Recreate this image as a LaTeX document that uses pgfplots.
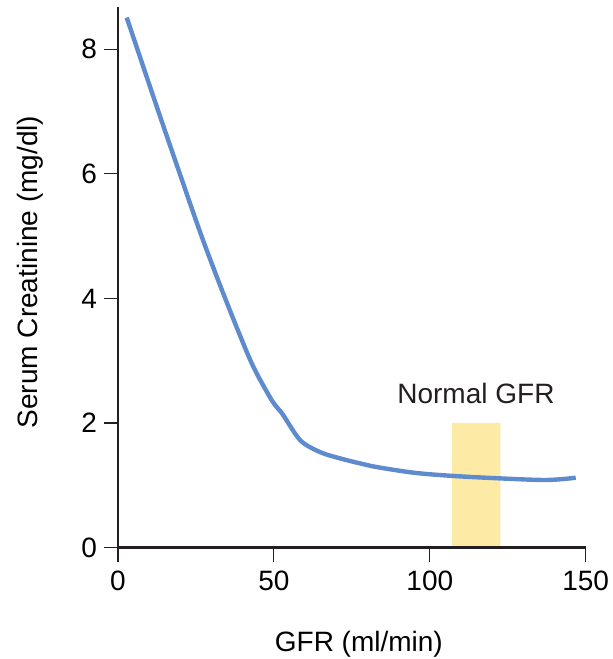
\documentclass[border=0pt]{standalone}
\usepackage{pgfplots}
\pgfplotsset{compat=1.18}
\usepackage{fontspec}
\setmainfont{Liberation Sans}
\definecolor{curve}{RGB}{93,139,206}
\definecolor{normal}{RGB}{252,234,165}
\definecolor{axcol}{RGB}{35,31,32}
\begin{document}
\begin{tikzpicture}[font=\fontsize{14}{17}\selectfont]
\begin{axis}[
  name=ax,
  scale only axis,
  width=233.85pt, height=270.1pt,
  xmin=0, xmax=150, ymin=0, ymax=8.675,
  axis lines=left,
  axis line style={-, line width=1.3pt, color=axcol},
  xtick={0,50,100,150}, ytick={0,2,4,6,8},
  tick align=outside,
  major tick length=7pt,
  tick style={line width=0.6pt, color=axcol},
  /pgf/number format/assume math mode=true,
  xticklabel style={yshift=-1pt},
  xlabel={GFR (ml/min)},
  ylabel={Serum Creatinine (mg/dl)},
  every axis x label/.style={at={(axis description cs:0.515,0)}, anchor=base, yshift=-52pt},
  every axis y label/.style={at={(axis description cs:0,0.51)}, xshift=-40.35pt, rotate=90, anchor=base},
  axis on top,
]
\addplot[draw=none, fill=normal] coordinates {(107.2,0) (122.6,0) (122.6,2) (107.2,2)} \closedcycle;
\addplot[color=curve, line width=2.2pt, smooth, tension=0.5] coordinates {
(2.8,8.51) (12.9,7.01) (19.7,6.02) (26.8,5.0) (34.3,4.01) (42.6,2.99)
(48.3,2.45) (50.5,2.28) (52.8,2.14) (58.5,1.72) (64.9,1.53) (71.3,1.43)
(77.7,1.35) (83.2,1.29) (95,1.20) (107.2,1.15) (122.5,1.11) (137.5,1.084) (146.8,1.12)
};
\node[anchor=base, text=axcol] at (axis cs:114.8,2.316) {Normal GFR};
\end{axis}
\pgfresetboundingbox
\path[use as bounding box] ([shift={(-59pt,-55.75pt)}]ax.south west) rectangle ([shift={(247pt,273.75pt)}]ax.south west);
\end{tikzpicture}
\end{document}
